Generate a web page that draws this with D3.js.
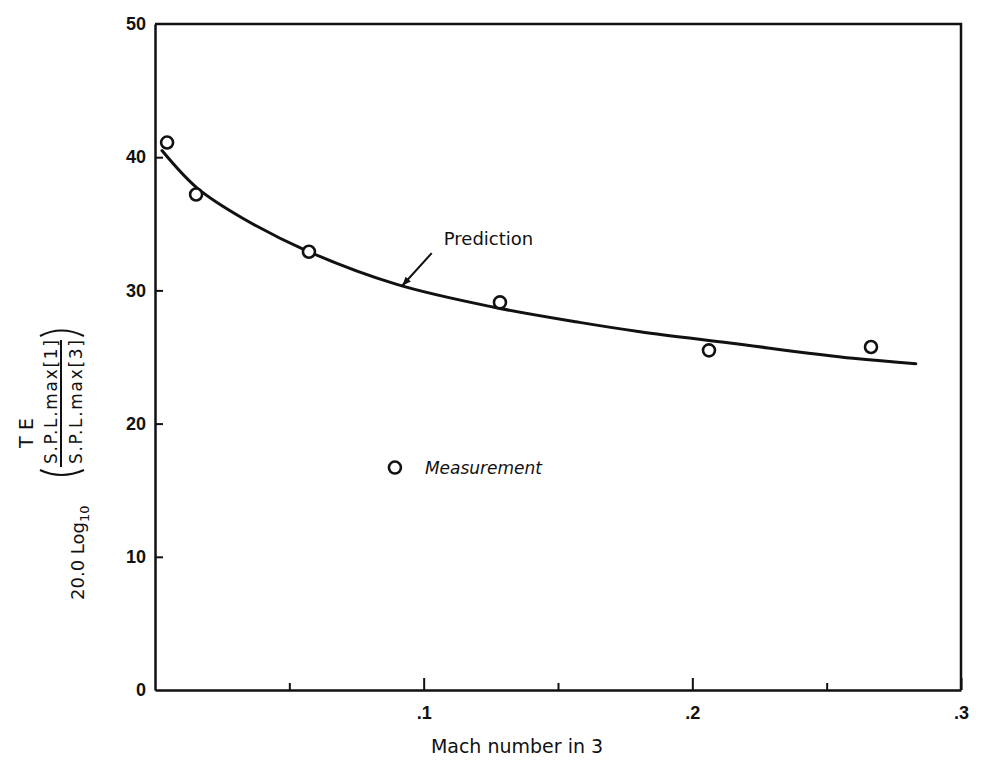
<!DOCTYPE html>
<html>
<head>
<meta charset="utf-8">
<script src="https://cdn.jsdelivr.net/npm/d3@7"></script>
<style>
  body { margin: 0; background: #fff; }
  svg { display: block; }
</style>
</head>
<body>
<svg id="chart" width="984" height="769"></svg>
<script>
// ---- data ----
const xTickValues = [0.1, 0.2, 0.3];
const xTickLabels = [".1", ".2", ".3"];
const xMinorTicks = [0.05, 0.15, 0.25];
const yTickValues = [0, 10, 20, 30, 40, 50];
const yTickLabels = ["0", "10", "20", "30", "40", "50"];

const measMach  = [0.0045, 0.0153, 0.0573, 0.1284, 0.2062, 0.2665];
const measValue = [41.1, 37.2, 32.9, 29.1, 25.5, 25.75];

const predMach  = [0.0026, 0.0156, 0.0328, 0.0573, 0.09, 0.1258, 0.158, 0.1805, 0.214, 0.2598, 0.2832];
const predValue = [40.5, 37.7, 35.4, 32.9, 30.45, 28.75, 27.6, 26.9, 26.05, 24.9, 24.5];

const predictionLabel = "Prediction";
const measurementLabel = "Measurement";
const xTitle = "Mach number in 3";

// annotation anchors (data coordinates)
const arrowTip = [0.092, 30.35];
const arrowTail = [0.103, 32.8];
const predLabelPos = [0.1075, 33.4];
const legendPos = [0.0893, 16.7];

// ---- drawing ----
const ink = "#111";
const svg = d3.select("#chart");
const x = d3.scaleLinear().domain([0, 0.3]).range([155, 961]);
const y = d3.scaleLinear().domain([0, 50]).range([690, 24]);

const tickFont = "'Liberation Sans', Arial, sans-serif";
const textFont = "'DejaVu Sans', sans-serif";

// frame (top + right)
svg.append("path")
  .attr("d", `M${x(0)},${y(50)}H${x(0.3)}V${y(0)}`)
  .attr("fill", "none").attr("stroke", ink).attr("stroke-width", 2.5);

// x axis
const gx = svg.append("g").attr("transform", `translate(0,${y(0)})`)
  .call(d3.axisBottom(x).tickValues(xTickValues)
    .tickFormat((d, i) => xTickLabels[i])
    .tickSize(-12).tickSizeOuter(0).tickPadding(16));
gx.select(".domain").attr("stroke", ink).attr("stroke-width", 2.5);
gx.selectAll(".tick line").attr("stroke", ink).attr("stroke-width", 2);
gx.selectAll(".tick text").attr("fill", ink)
  .style("font-family", tickFont).style("font-size", "18px").style("font-weight", "bold");

// x minor ticks
const gxm = svg.append("g").attr("transform", `translate(0,${y(0)})`)
  .call(d3.axisBottom(x).tickValues(xMinorTicks).tickFormat("").tickSize(-7).tickSizeOuter(0));
gxm.select(".domain").remove();
gxm.selectAll(".tick line").attr("stroke", ink).attr("stroke-width", 2);

// y axis
const gy = svg.append("g").attr("transform", `translate(${x(0)},0)`)
  .call(d3.axisLeft(y).tickValues(yTickValues)
    .tickFormat((d, i) => yTickLabels[i])
    .tickSize(-8).tickSizeOuter(0).tickPadding(9));
gy.select(".domain").attr("stroke", ink).attr("stroke-width", 2.5);
gy.selectAll(".tick line").attr("stroke", ink).attr("stroke-width", 2)
  .filter(d => d === 0 || d === 50).remove();
gy.selectAll(".tick text").attr("fill", ink)
  .style("font-family", tickFont).style("font-size", "18px").style("font-weight", "bold");

// prediction curve
const predData = predMach.map((m, i) => ({ m, v: predValue[i] }));
svg.append("path").datum(predData)
  .attr("d", d3.line().x(d => x(d.m)).y(d => y(d.v)).curve(d3.curveCatmullRom.alpha(0.5)))
  .attr("fill", "none").attr("stroke", ink).attr("stroke-width", 3)
  .attr("stroke-linecap", "round");

// measurements
const measData = measMach.map((m, i) => ({ m, v: measValue[i] }));
svg.append("g").selectAll("circle").data(measData).join("circle")
  .attr("cx", d => x(d.m)).attr("cy", d => y(d.v)).attr("r", 6)
  .attr("fill", "#fff").attr("stroke", ink).attr("stroke-width", 2.6);

// prediction annotation
const tx = x(arrowTip[0]), ty = y(arrowTip[1]);
const sx = x(arrowTail[0]), sy = y(arrowTail[1]);
svg.append("line").attr("x1", sx).attr("y1", sy).attr("x2", tx).attr("y2", ty)
  .attr("stroke", ink).attr("stroke-width", 2);
const ang = Math.atan2(ty - sy, tx - sx);
const ah = 9, aw = 3.5;
const bx = tx - ah * Math.cos(ang), by = ty - ah * Math.sin(ang);
svg.append("path")
  .attr("d", `M${tx},${ty}L${bx + aw * Math.sin(ang)},${by - aw * Math.cos(ang)}L${bx - aw * Math.sin(ang)},${by + aw * Math.cos(ang)}Z`)
  .attr("fill", ink);
svg.append("text").attr("x", x(predLabelPos[0])).attr("y", y(predLabelPos[1]))
  .attr("fill", ink).style("font-family", textFont).style("font-size", "18px")
  .text(predictionLabel);

// legend
svg.append("circle").attr("cx", x(legendPos[0])).attr("cy", y(legendPos[1])).attr("r", 6)
  .attr("fill", "#fff").attr("stroke", ink).attr("stroke-width", 2.6);
svg.append("text").attr("x", x(legendPos[0]) + 30).attr("y", y(legendPos[1]) + 6)
  .attr("fill", ink).style("font-family", textFont).style("font-size", "17px")
  .style("font-style", "italic").text(measurementLabel);

// x title
svg.append("text").attr("x", 517).attr("y", 753).attr("text-anchor", "middle")
  .attr("fill", ink).style("font-family", textFont).style("font-size", "19px")
  .text(xTitle);

// y title (rotated): screen X = v, screen Y = 700 - u
const gt = svg.append("g").attr("transform", "translate(0,700) rotate(-90)")
  .attr("fill", ink).style("font-family", textFont);
const t1 = gt.append("text").attr("x", 100).attr("y", 84).style("font-size", "18px");
t1.append("tspan").text("20.0 Log");
t1.append("tspan").attr("dy", 5).style("font-size", "13px").text("10");
// fraction
gt.append("text").attr("x", 236).attr("y", 57).style("font-size", "17px")
  .attr("textLength", 124).attr("lengthAdjust", "spacing").text("S.P.L.max[1]");
gt.append("line").attr("x1", 233).attr("x2", 360).attr("y1", 61).attr("y2", 61)
  .attr("stroke", ink).attr("stroke-width", 2);
gt.append("text").attr("x", 236).attr("y", 82).style("font-size", "17px")
  .attr("textLength", 124).attr("lengthAdjust", "spacing").text("S.P.L.max[3]");
gt.append("text").attr("x", 252).attr("y", 33).style("font-size", "19px")
  .attr("textLength", 30).attr("lengthAdjust", "spacing").text("TE");
// parentheses
gt.append("path").attr("d", "M230,40 Q220,61 230,84")
  .attr("fill", "none").attr("stroke", ink).attr("stroke-width", 2);
gt.append("path").attr("d", "M364,40 Q375,61 364,84")
  .attr("fill", "none").attr("stroke", ink).attr("stroke-width", 2);
</script>
</body>
</html>
